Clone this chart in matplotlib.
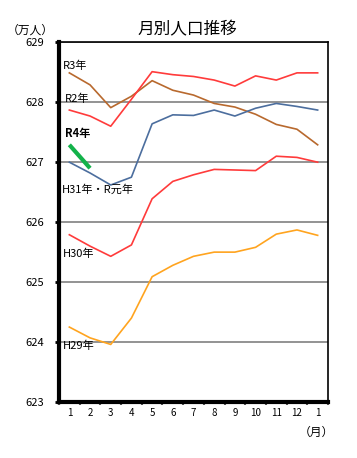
import matplotlib.pyplot as plt
import numpy as np

plt.rcParams['font.family'] = ['Noto Sans CJK JP', 'DejaVu Sans']

months = ["1", "2", "3", "4", "5", "6", "7", "8", "9", "10", "11", "12", "1"]

r3 = [628.49, 628.29, 627.91, 628.10, 628.36, 628.20, 628.12, 627.98, 627.92, 627.80, 627.63, 627.55, 627.29]
r2 = [627.87, 627.77, 627.60, 628.05, 628.51, 628.46, 628.43, 628.37, 628.27, 628.44, 628.37, 628.49, 628.49]
h31 = [627.00, 626.82, 626.62, 626.75, 627.64, 627.79, 627.78, 627.87, 627.77, 627.90, 627.98, 627.93, 627.87]
r4 = [627.29, 626.90]
h30 = [625.79, 625.60, 625.43, 625.62, 626.39, 626.68, 626.79, 626.88, 626.87, 626.86, 627.10, 627.08, 627.00]
h29 = [624.25, 624.07, 623.96, 624.40, 625.09, 625.28, 625.43, 625.50, 625.50, 625.58, 625.80, 625.87, 625.78]

fig = plt.figure(figsize=(3.57, 4.58), dpi=100)
ax = fig.add_axes([59 / 357, 1 - 402 / 458, (328 - 59) / 357, (402 - 42.3) / 458])

x = np.arange(len(months)) + 0.5
ax.plot(x, r3, color="#B8692E", lw=1.2)
ax.plot(x, r2, color="#FF3B3B", lw=1.2)
ax.plot(x, h31, color="#4C6E9E", lw=1.2)
ax.plot(x, h30, color="#FF3B3B", lw=1.2)
ax.plot(x, h29, color="#FFA41F", lw=1.2)
ax.plot(x[:len(r4)], r4, color="#13B24A", lw=3, solid_capstyle="butt")

ax.set_xlim(0, len(months))
ax.set_ylim(623, 629)
ax.set_yticks(range(623, 630))
ax.yaxis.grid(True, color="#808080", lw=1.2)
ax.set_axisbelow(True)

# ticks at category boundaries, labels at the centres
ax.set_xticks(range(len(months) + 1))
ax.set_xticklabels([])
ax.set_xticks(x, minor=True)
ax.set_xticklabels(months, minor=True, fontsize=7)
ax.tick_params(axis="x", which="major", length=2, width=1.5, color="#555555")
ax.tick_params(axis="x", which="minor", length=0, pad=4)
ax.tick_params(axis="y", length=3, width=2, labelsize=8, pad=8)

for s in ["left", "bottom"]:
    ax.spines[s].set_linewidth(3)
    ax.spines[s].set_color("black")
for s in ["right", "top"]:
    ax.spines[s].set_linewidth(1.2)

ax.text(0.2, 628.6, "R3年", fontsize=8, va="center")
ax.text(0.3, 628.05, "R2年", fontsize=8, va="center")
ax.text(0.3, 627.48, "R4年", fontsize=8, va="center", fontweight="bold")
ax.text(0.15, 626.55, "H31年・R元年", fontsize=8, va="center")
ax.text(0.2, 625.47, "H30年", fontsize=8, va="center")
ax.text(0.2, 623.93, "H29年", fontsize=8, va="center")

fig.text(187 / 357, 1 - 30 / 458, "月別人口推移", fontsize=12, ha="center", va="center")
fig.text(30 / 357, 1 - 30 / 458, "（万人）", fontsize=8.5, ha="center", va="center")
fig.text(316 / 357, 1 - 432 / 458, "（月）", fontsize=8.5, ha="center", va="center")

fig.savefig("out.png", dpi=100)
